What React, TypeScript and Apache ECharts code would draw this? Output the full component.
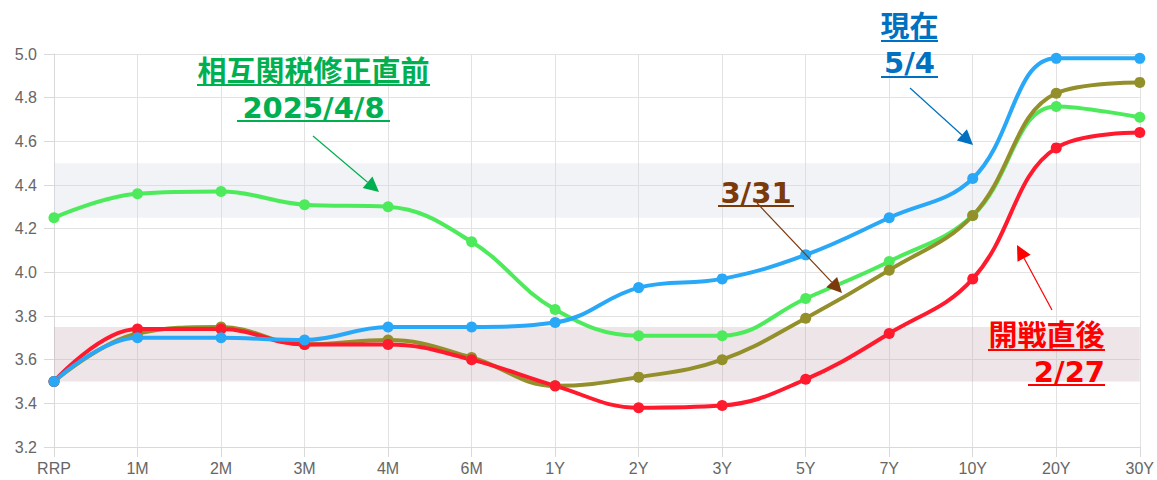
import React, { useEffect, useRef } from "react";
import * as echarts from "echarts";

const categories = ["RRP", "1M", "2M", "3M", "4M", "6M", "1Y", "2Y", "3Y", "5Y", "7Y", "10Y", "20Y", "30Y"];
const yTicks = { min: 3.2, max: 5.0, step: 0.2 };
const seriesApr8 = [4.25, 4.36, 4.37, 4.31, 4.30, 4.14, 3.83, 3.71, 3.71, 3.88, 4.05, 4.26, 4.76, 4.71];
const seriesMar31 = [3.50, 3.72, 3.75, 3.67, 3.69, 3.61, 3.48, 3.52, 3.60, 3.79, 4.01, 4.26, 4.82, 4.87];
const seriesFeb27 = [3.50, 3.74, 3.74, 3.67, 3.67, 3.60, 3.48, 3.38, 3.39, 3.51, 3.72, 3.97, 4.57, 4.64];
const seriesMay4 = [3.50, 3.70, 3.70, 3.69, 3.75, 3.75, 3.77, 3.93, 3.97, 4.08, 4.25, 4.43, 4.98, 4.98];
const bandHigh = [4.25, 4.5];
const bandLow = [3.5, 3.75];

const FONT = "'DejaVu Sans', 'Noto Sans CJK JP', sans-serif";

function arrow(x1: number, y1: number, x2: number, y2: number, color: string, len = 15, w = 7.5): any[] {
  const dx = x2 - x1, dy = y2 - y1;
  const L = Math.hypot(dx, dy);
  const ux = dx / L, uy = dy / L;
  const bx = x2 - ux * len, by = y2 - uy * len;
  const px = -uy, py = ux;
  return [
    { type: "line", shape: { x1, y1, x2: bx, y2: by }, style: { stroke: color, lineWidth: 1.2 }, z: 100 },
    { type: "polygon", shape: { points: [[x2, y2], [bx + px * w, by + py * w], [bx - px * w, by - py * w]] }, style: { fill: color }, z: 100 },
  ];
}

function label(text: string, x: number, y: number, color: string, align: string = "center"): any {
  return {
    type: "text",
    x,
    y,
    z: 100,
    style: { text, fill: color, font: `bold 29px ${FONT}`, textAlign: align, textVerticalAlign: "middle" },
  };
}

function underline(x1: number, x2: number, y: number, color: string): any {
  return { type: "line", z: 100, shape: { x1, y1: y, x2, y2: y }, style: { stroke: color, lineWidth: 2 } };
}

export default function App() {
  const ref = useRef<HTMLDivElement>(null);
  useEffect(() => {
    document.body.style.margin = "0";
    const chart = echarts.init(ref.current!, null, { renderer: "svg" });
    const mk = (name: string, data: number[], color: string, extra: any = {}) => ({
      name,
      type: "line",
      data,
      smooth: 0.4,
      symbol: "circle",
      symbolSize: 11,
      lineStyle: { width: 4, color },
      itemStyle: { color },
      ...extra,
    });
    const green = "#00b050", brown = "#7a3a0c", blue = "#0070c0", red = "#ff0000";
    chart.setOption({
      animation: false,
      grid: { left: 54, right: 13, top: 54, bottom: 33 },
      xAxis: {
        type: "category",
        data: categories,
        boundaryGap: false,
        axisLine: { lineStyle: { color: "#d9d9d9" } },
        axisTick: { show: true, length: 10, lineStyle: { color: "#d9d9d9" } },
        axisLabel: { color: "#666", fontSize: 16, fontFamily: "'Liberation Sans', Arial, sans-serif", margin: 13 },
        splitLine: { show: true, lineStyle: { color: "#e2e2e2" } },
      },
      yAxis: {
        type: "value",
        min: yTicks.min,
        max: yTicks.max,
        interval: yTicks.step,
        axisLine: { show: true, lineStyle: { color: "#d9d9d9" } },
        axisTick: { show: true, length: 10, lineStyle: { color: "#d9d9d9" } },
        axisLabel: {
          color: "#666",
          fontSize: 16,
          fontFamily: "'Liberation Sans', Arial, sans-serif",
          margin: 17,
          formatter: (v: number) => v.toFixed(1),
        },
        splitLine: { show: true, lineStyle: { color: "#e2e2e2" } },
      },
      series: [
        mk("4/8", seriesApr8, "#4deb5b", {
          markArea: {
            silent: true,
            data: [
              [{ yAxis: bandHigh[0], itemStyle: { color: "rgba(210,215,225,0.3)" } }, { yAxis: bandHigh[1] }],
              [{ yAxis: bandLow[0], itemStyle: { color: "rgba(190,160,165,0.27)" } }, { yAxis: bandLow[1] }],
            ],
          },
        }),
        mk("3/31", seriesMar31, "#938f2a"),
        mk("2/27", seriesFeb27, "#ff1a2e"),
        mk("5/4", seriesMay4, "#29a8f8"),
      ],
      graphic: [
        label("相互関税修正直前", 313.5, 72, green),
        underline(197, 430, 85, green),
        label("2025/4/8", 313.5, 108, green),
        underline(237, 390, 121, green),
        ...arrow(313, 136, 379, 192, green),
        label("3/31", 756, 193, brown),
        underline(718, 794, 206, brown),
        ...arrow(757, 203, 842, 293, brown),
        label("現在", 909.5, 27, blue),
        underline(881, 938, 41, blue),
        label("5/4", 909.5, 63, blue),
        underline(881, 938, 77, blue),
        ...arrow(910, 88, 973, 145, blue),
        label("開戦直後", 1046.5, 336, red),
        underline(988, 1105, 350, red),
        label("2/27", 1105, 372, red, "right"),
        underline(1028, 1105, 385, red),
        ...arrow(1052, 310, 1017, 245, red),
      ],
    });
    return () => chart.dispose();
  }, []);
  return <div ref={ref} style={{ width: 1157, height: 480 }} />;
}
